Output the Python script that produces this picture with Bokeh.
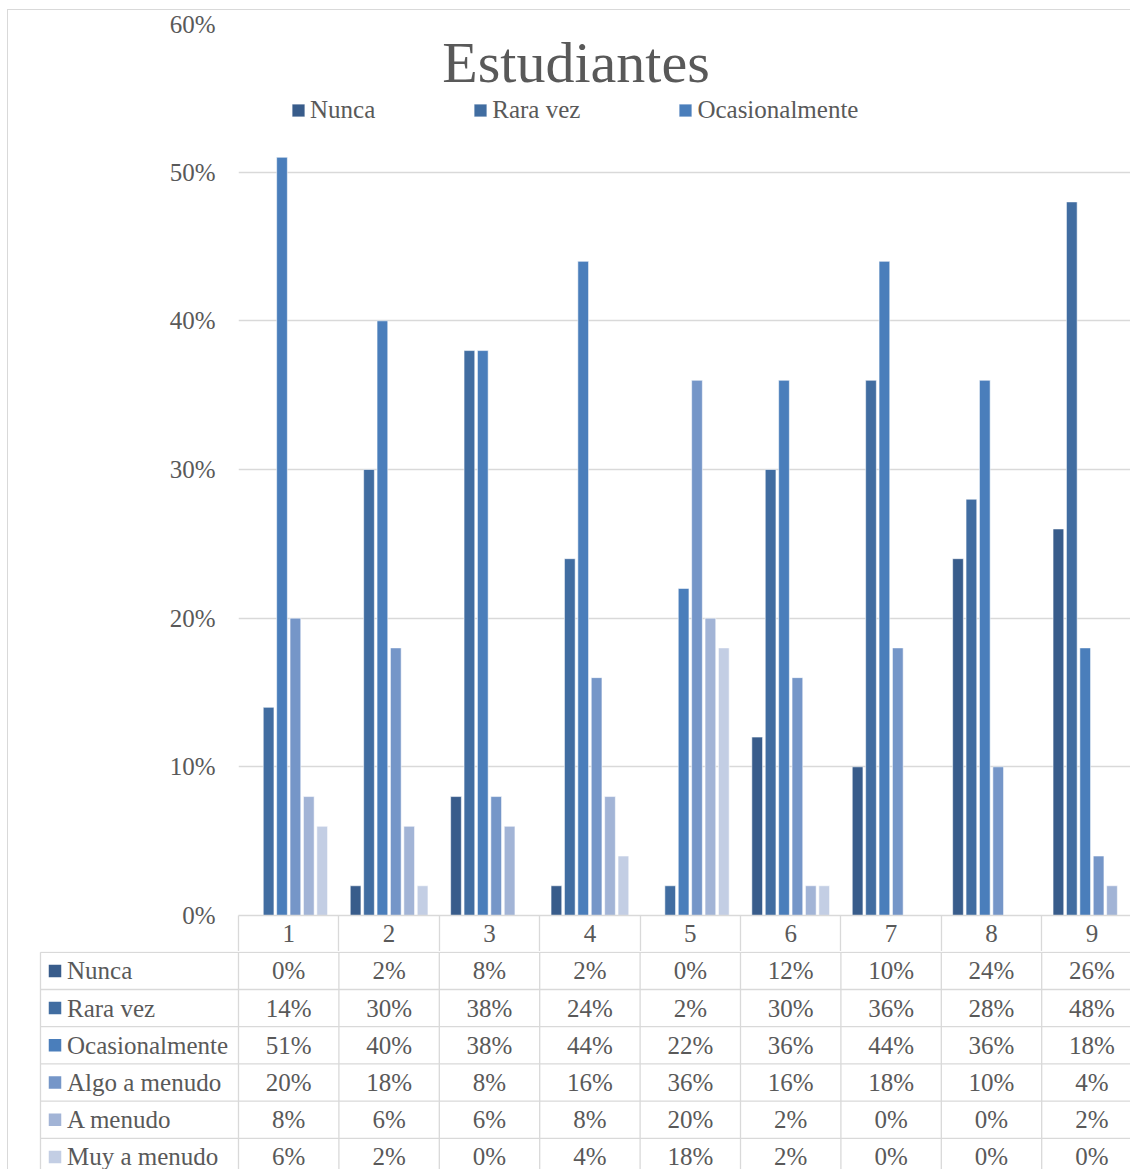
from bokeh.plotting import figure
from bokeh.models import (Range1d, FixedTicker, Legend, LegendItem, Label,
                          ColumnDataSource)
from bokeh.layouts import column
from bokeh.transform import dodge
from bokeh.embed import file_html
from bokeh.resources import INLINE
from bokeh.core.properties import value

# ---------------- data ----------------
title_text = "Estudiantes"
categories = ["1", "2", "3", "4", "5", "6", "7", "8", "9"]
series_names = ["Nunca", "Rara vez", "Ocasionalmente",
                "Algo a menudo", "A menudo", "Muy a menudo"]
nunca = [0, 2, 8, 2, 0, 12, 10, 24, 26]
rara_vez = [14, 30, 38, 24, 2, 30, 36, 28, 48]
ocasionalmente = [51, 40, 38, 44, 22, 36, 44, 36, 18]
algo_a_menudo = [20, 18, 8, 16, 36, 16, 18, 10, 4]
a_menudo = [8, 6, 6, 8, 20, 2, 0, 0, 2]
muy_a_menudo = [6, 2, 0, 4, 18, 2, 0, 0, 0]
y_ticks = [0, 10, 20, 30, 40, 50, 60]
y_tick_labels = ["0%", "10%", "20%", "30%", "40%", "50%", "60%"]
legend_shown = ["Nunca", "Rara vez", "Ocasionalmente"]

series_values = [nunca, rara_vez, ocasionalmente, algo_a_menudo, a_menudo, muy_a_menudo]
colors = ["#385C8B", "#416DA1", "#4A7EBB", "#7596C8", "#A2B4D6", "#C3CEE4"]

# ---------------- style / layout ----------------
FONT = "Liberation Serif"
TXT = "#595959"
GRID = "#D9D9D9"
FS = "25px"

MARGIN_LEFT = 7
MARGIN_TOP = 9
W = 1130 - MARGIN_LEFT - 1   # canvas width
COL_PX = 100.4               # width of one category column in px
LEFT_PAD = 230               # canvas left edge -> plot area left edge
TOP_PAD = 13
PLOT_H = 892
AXIS_H = 36
HA = TOP_PAD + PLOT_H + AXIS_H
HB = 1169 - MARGIN_TOP - 1 - HA
ROW_PX = 37.2
TABLE_LEFT_PX = 32           # table left edge from canvas left
PITCH = 13.4 / COL_PX
BAR_W = 10.7 / COL_PX

x_start = 0.5
x_end = 0.5 + (W - LEFT_PAD) / COL_PX
n = len(categories)
xs = list(range(1, n + 1))

data = {"x": xs}
for name, vals in zip(series_names, series_values):
    data[name] = vals
src = ColumnDataSource(data)

# ---------------- chart ----------------
p = figure(width=W, height=HA, x_range=Range1d(x_start, x_end), y_range=Range1d(0, 60),
           output_backend="svg", toolbar_location=None,
           min_border_left=LEFT_PAD, min_border_right=0, min_border_top=TOP_PAD,
           min_border_bottom=AXIS_H, outline_line_color=None,
           background_fill_color="white", border_fill_color="white")
p.frame_align = False

renderers = []
for j, (name, col) in enumerate(zip(series_names, colors)):
    off = (j - (len(series_names) - 1) / 2) * PITCH
    r = p.vbar(x=dodge("x", off, range=p.x_range), top=name, width=BAR_W, source=src,
               fill_color=col, line_color="white", line_alpha=0.55, line_width=1)
    renderers.append(r)

# y axis
p.yaxis.ticker = FixedTicker(ticks=y_ticks)
p.yaxis.major_label_overrides = {t: l for t, l in zip(y_ticks, y_tick_labels)}
p.yaxis.axis_line_color = None
p.yaxis.major_tick_line_color = None
p.yaxis.minor_tick_line_color = None
p.yaxis.major_tick_out = 0
p.yaxis.major_tick_in = 0
p.yaxis.minor_tick_out = 0
p.yaxis.minor_tick_in = 0
p.yaxis.major_label_standoff = 23
p.yaxis.major_label_text_font = FONT
p.yaxis.major_label_text_font_size = FS
p.yaxis.major_label_text_color = TXT

p.ygrid.ticker = FixedTicker(ticks=y_ticks)
p.ygrid.grid_line_color = GRID
p.ygrid.grid_line_width = 1.3
p.xgrid.grid_line_color = None

# x axis = header row of the data table
p.xaxis.ticker = FixedTicker(ticks=xs, minor_ticks=[i - 0.5 for i in range(1, n + 2)])
p.xaxis.major_label_overrides = {x: c for x, c in zip(xs, categories)}
p.xaxis.axis_line_color = GRID
p.xaxis.axis_line_width = 1.3
p.xaxis.major_tick_line_color = None
p.xaxis.major_tick_out = 0
p.xaxis.major_tick_in = 0
p.xaxis.minor_tick_line_color = GRID
p.xaxis.minor_tick_line_width = 1.3
p.xaxis.minor_tick_out = AXIS_H
p.xaxis.minor_tick_in = 0
p.xaxis.major_label_standoff = 9 - AXIS_H
p.xaxis.major_label_text_font = FONT
p.xaxis.major_label_text_font_size = FS
p.xaxis.major_label_text_color = TXT

legend = Legend(
    items=[LegendItem(label=nm, renderers=[renderers[series_names.index(nm)]]) for nm in legend_shown],
    orientation="horizontal", location=(52, 791), padding=0, spacing=97, margin=0,
    border_line_color=None, background_fill_alpha=0,
    label_text_font=FONT, label_text_font_size=FS, label_text_color=TXT,
    glyph_width=16, glyph_height=16, label_standoff=4)
p.add_layout(legend)

p.add_layout(Label(x=0.5 + (575.5 - 238) / COL_PX, y=60 - (63 - 24) / (PLOT_H / 60),
                   text=title_text, text_align="center", text_baseline="alphabetic",
                   text_font=FONT, text_font_size="58px", text_color=TXT))

# ---------------- data table ----------------
tx0 = 0.5 - LEFT_PAD / COL_PX
rows_visible = HB / ROW_PX
eps = 0.8 / ROW_PX
q = figure(width=W, height=HB, x_range=Range1d(tx0, x_end),
           y_range=Range1d(rows_visible - eps, -eps),
           output_backend="svg", toolbar_location=None, min_border=0,
           x_axis_type=None, y_axis_type=None, outline_line_color=None,
           background_fill_color="white", border_fill_color="white")
q.frame_align = False
q.xgrid.visible = False
q.ygrid.visible = False

table_left = tx0 + TABLE_LEFT_PX / COL_PX
nrows = len(series_names)
q.segment(x0=[table_left] * (nrows + 1), x1=[x_end] * (nrows + 1),
          y0=list(range(nrows + 1)), y1=list(range(nrows + 1)),
          line_color=GRID, line_width=1.3)
vx = [table_left] + [i - 0.5 for i in range(1, n + 2)]
q.segment(x0=vx, x1=vx, y0=[0] * len(vx), y1=[nrows] * len(vx),
          line_color=GRID, line_width=1.3)

row_y = [i + 0.5 for i in range(nrows)]
q.scatter(x=[tx0 + 46.5 / COL_PX] * nrows, y=row_y, marker="square", size=12.5,
          fill_color=colors, line_color=None)
q.text(x=[tx0 + 58.5 / COL_PX] * nrows, y=row_y, text=series_names,
       text_align="left", text_baseline="middle",
       text_font=value(FONT), text_font_size=value(FS), text_color=TXT)

cell_x, cell_y, cell_t = [], [], []
for r_i, vals in enumerate(series_values):
    for c_i, v in enumerate(vals):
        cell_x.append(xs[c_i])
        cell_y.append(r_i + 0.5)
        cell_t.append(f"{v}%")
q.text(x=cell_x, y=cell_y, text=cell_t, text_align="center", text_baseline="middle",
       text_font=value(FONT), text_font_size=value(FS), text_color=TXT)

layout = column(p, q, spacing=0,
                styles={"border-left": "1px solid #D9D9D9", "border-top": "1px solid #D9D9D9",
                        "margin-left": f"{MARGIN_LEFT}px", "margin-top": f"{MARGIN_TOP}px"})

open("out.html", "w").write(file_html(layout, INLINE))
